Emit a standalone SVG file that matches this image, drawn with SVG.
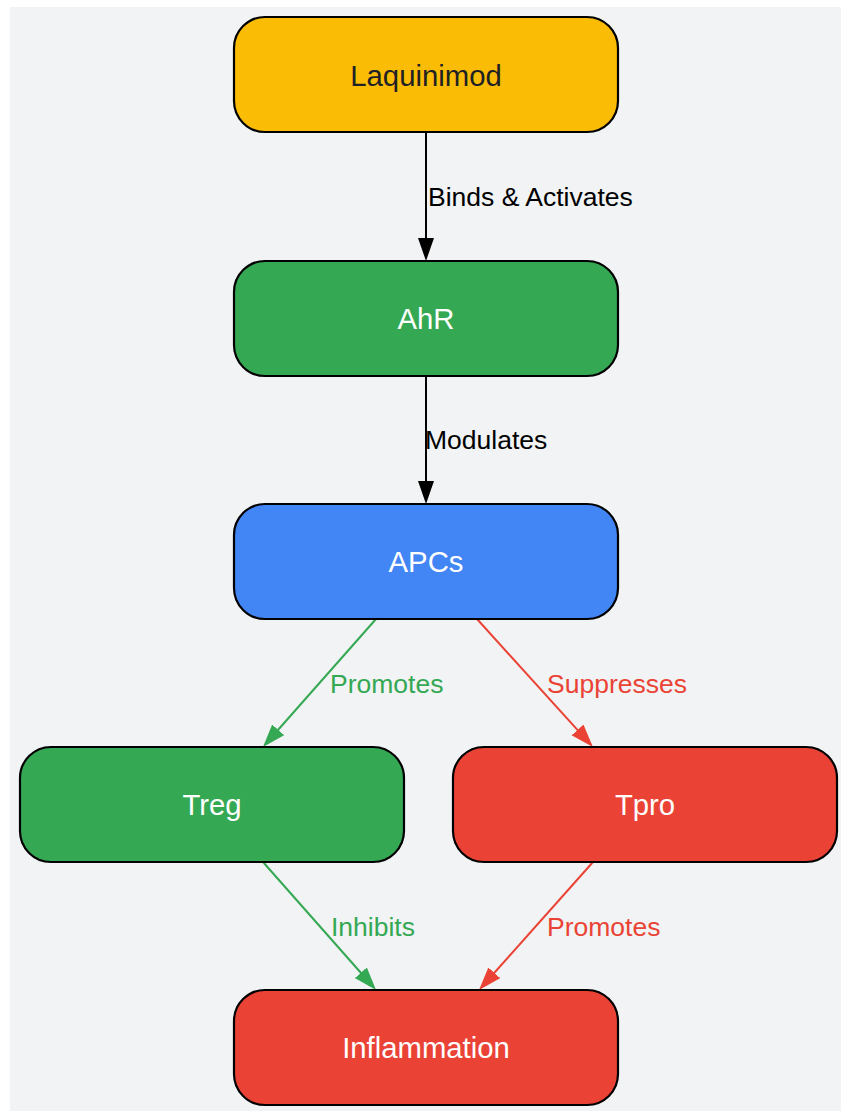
<svg xmlns="http://www.w3.org/2000/svg" width="841" height="1111" viewBox="0 0 841 1111">
<style>
.node rect{stroke:#000;stroke-width:2.2}
.node text{font-family:"Liberation Sans",Arial,sans-serif;font-size:29.3px;text-anchor:middle;fill:#fff}
.lbl{font-family:"Liberation Sans",Arial,sans-serif;font-size:26.5px}
.e{fill:none;stroke-width:2}
</style>
<defs>
<marker id="ak" markerUnits="userSpaceOnUse" markerWidth="24" markerHeight="17" refX="11" refY="8" orient="auto"><path d="M0,0 L23,8 L0,16 z" fill="#000"/></marker>
<marker id="ag" markerUnits="userSpaceOnUse" markerWidth="24" markerHeight="17" refX="11" refY="8" orient="auto"><path d="M0,0 L23,8 L0,16 z" fill="#34A853"/></marker>
<marker id="ar" markerUnits="userSpaceOnUse" markerWidth="24" markerHeight="17" refX="11" refY="8" orient="auto"><path d="M0,0 L23,8 L0,16 z" fill="#EA4335"/></marker>
</defs>
<rect x="10" y="7" width="831" height="1104" fill="#F1F3F4"/>
<g id="connectors">
<line class="e" x1="426" y1="132" x2="426" y2="249" stroke="#000" marker-end="url(#ak)"/>
<line class="e" x1="426" y1="376" x2="426" y2="492" stroke="#000" marker-end="url(#ak)"/>
<line class="e" x1="376" y1="619" x2="270.9" y2="738" stroke="#34A853" marker-end="url(#ag)"/>
<line class="e" x1="477" y1="619" x2="584.9" y2="738.1" stroke="#EA4335" marker-end="url(#ar)"/>
<line class="e" x1="263" y1="862" x2="368.1" y2="981" stroke="#34A853" marker-end="url(#ag)"/>
<line class="e" x1="593" y1="862" x2="487" y2="981" stroke="#EA4335" marker-end="url(#ar)"/>
<text class="lbl" x="428" y="206" fill="#000">Binds &amp; Activates</text>
<text class="lbl" x="425" y="449" fill="#000">Modulates</text>
<text class="lbl" x="330" y="693" fill="#34A853">Promotes</text>
<text class="lbl" x="547" y="693" fill="#EA4335">Suppresses</text>
<text class="lbl" x="331" y="936" fill="#34A853">Inhibits</text>
<text class="lbl" x="547" y="936" fill="#EA4335">Promotes</text>
</g>
<g id="laquinimod" class="node"><rect x="234" y="17" width="384" height="115" rx="31" ry="31" fill="#FBBC05"/><text x="426" y="86" style="fill:#202124">Laquinimod</text></g>
<g id="ahr" class="node"><rect x="234" y="261" width="384" height="115" rx="31" ry="31" fill="#34A853"/><text x="426" y="329">AhR</text></g>
<g id="apcs" class="node"><rect x="234" y="504" width="384" height="115" rx="31" ry="31" fill="#4285F4"/><text x="426" y="572">APCs</text></g>
<g id="treg" class="node"><rect x="20" y="747" width="384" height="115" rx="31" ry="31" fill="#34A853"/><text x="212" y="815">Treg</text></g>
<g id="tpro" class="node"><rect x="453" y="747" width="384" height="115" rx="31" ry="31" fill="#EA4335"/><text x="645" y="815">Tpro</text></g>
<g id="inflammation" class="node"><rect x="234" y="990" width="384" height="115" rx="31" ry="31" fill="#EA4335"/><text x="426" y="1058">Inflammation</text></g>
</svg>
